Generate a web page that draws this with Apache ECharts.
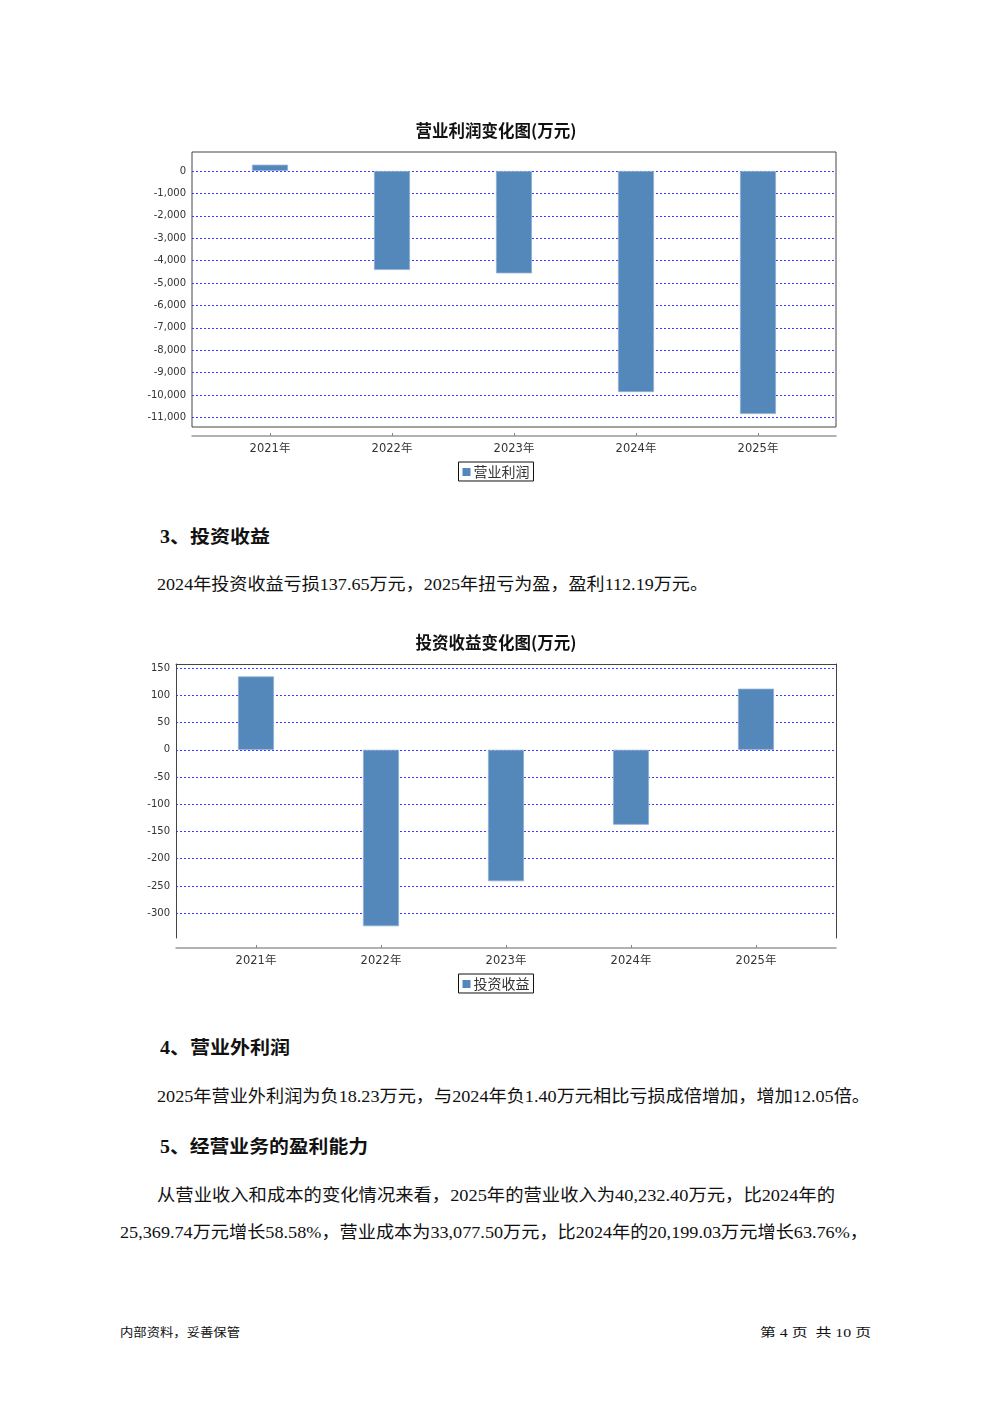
<!DOCTYPE html>
<html>
<head>
<meta charset="utf-8">
<script src="https://cdn.jsdelivr.net/npm/echarts@6/dist/echarts.min.js"></script>
<style>
  html, body { margin:0; padding:0; background:#fff; }
  body { width:992px; height:1403px; position:relative; overflow:hidden; }
  .t { position:absolute; white-space:nowrap; line-height:1; color:#111;
       font-family:"Liberation Serif","Noto Sans CJK SC",serif; transform-origin:0 50%; display:inline-block; }
  .h { font-weight:bold; font-family:"Liberation Serif","Noto Sans CJK SC",sans-serif; }
  .chart { position:absolute; left:0; width:992px; height:390px; }
</style>
</head>
<body>
<div id="c1" class="chart" style="top:110px"></div>
<div id="c2" class="chart" style="top:620px"></div>

<div class="t h" style="left:160px;top:528px;font-size:18px" data-w="110">3、投资收益</div>
<div class="t" style="left:157px;top:576px;font-size:17px" data-w="551">2024年投资收益亏损137.65万元，2025年扭亏为盈，盈利112.19万元。</div>
<div class="t h" style="left:160px;top:1039px;font-size:18px" data-w="130">4、营业外利润</div>
<div class="t" style="left:157px;top:1088px;font-size:17px" data-w="713">2025年营业外利润为负18.23万元，与2024年负1.40万元相比亏损成倍增加，增加12.05倍。</div>
<div class="t h" style="left:160px;top:1138px;font-size:18px" data-w="208">5、经营业务的盈利能力</div>
<div class="t" style="left:157px;top:1187px;font-size:17px" data-w="678">从营业收入和成本的变化情况来看，2025年的营业收入为40,232.40万元，比2024年的</div>
<div class="t" style="left:120px;top:1224px;font-size:17px" data-w="748">25,369.74万元增长58.58%，营业成本为33,077.50万元，比2024年的20,199.03万元增长63.76%，</div>
<div class="t" style="left:120px;top:1327px;font-size:12px" data-w="120">内部资料，妥善保管</div>
<div class="t" style="left:760px;top:1327px;font-size:12px" data-w="111">第 4 页 &nbsp;共 10 页</div>

<script>
// ---- data ----
const years = ['2021年', '2022年', '2023年', '2024年', '2025年'];
const opProfit = [280, -4420, -4570, -9870, -10850];          // 营业利润 (万元)
const invIncome = [134.7, -324, -241.4, -137.65, 112.19];      // 投资收益 (万元)
const opProfitAxis = { min: -11430, max: 848, step: 1000 };
const invIncomeAxis = { min: -345.6, max: 157.5, step: 50 };

const CJK = '"Noto Sans CJK SC"';

function buildOption(c) {
  const frameAxes = c.box ? [] : [
    { gridIndex: 0, type: 'value', position: 'top', min: 0, max: 1,
      axisLine: { show: true, onZero: false, lineStyle: { color: '#444', width: 1 } },
      axisTick: { show: false }, axisLabel: { show: false }, splitLine: { show: false } }
  ];
  const xAxis = [
    { gridIndex: 0, type: 'value', position: 'bottom', min: 0, max: 1, offset: c.axisOffset,
      axisLine: { show: true, onZero: false, lineStyle: { color: '#999', width: 1.5 } },
      axisTick: { show: false }, axisLabel: { show: false }, splitLine: { show: false } },
    { gridIndex: 1, type: 'category', data: years, position: 'bottom', offset: c.axisOffset,
      axisLine: { show: false, onZero: false },
      axisTick: { show: true, alignWithLabel: true, length: 3, inside: true, lineStyle: { color: '#888' } },
      axisLabel: { fontSize: 11.5, color: '#333', margin: 7, fontFamily: '"DejaVu Sans",' + CJK },
      splitLine: { show: false } }
  ].concat(frameAxes);
  const yAxis = [
    { gridIndex: 0, type: 'value', min: c.axis.min, max: c.axis.max,
      minInterval: c.axis.step, maxInterval: c.axis.step,
      axisLine: { show: !c.box, onZero: false, lineStyle: { color: '#444' } },
      axisTick: { show: false },
      axisLabel: { fontSize: 10, color: '#333', margin: 6, fontFamily: '"DejaVu Sans"',
        showMinLabel: false, showMaxLabel: false,
        formatter: v => v.toLocaleString('en-US') },
      splitLine: { show: true, showMinLine: false, showMaxLine: false,
        lineStyle: { color: '#3a3aff', width: 1, type: [2, 2] } } },
    { gridIndex: 1, type: 'value', min: c.axis.min, max: c.axis.max, show: false,
      axisLine: { onZero: false }, splitLine: { show: false } }
  ];
  if (!c.box) {
    yAxis.push({ gridIndex: 0, type: 'value', position: 'right', min: c.axis.min, max: c.axis.max,
      axisLine: { show: true, onZero: false, lineStyle: { color: '#444' } }, axisTick: { show: false },
      axisLabel: { show: false }, splitLine: { show: false } });
  }
  return {
    animation: false,
    title: { text: c.title, left: 'center', top: c.titleTop,
      textStyle: { fontSize: 16.5, fontWeight: 'bold', color: '#111', fontFamily: CJK } },
    legend: { data: [c.name], top: c.legendTop, left: 'center', icon: 'rect',
      itemWidth: 8, itemHeight: 8, itemGap: 0, padding: [3, 4, 2, 4],
      borderColor: '#111', borderWidth: 1,
      itemStyle: { borderWidth: 0 },
      textStyle: { fontSize: 14, color: '#333', fontFamily: CJK, padding: [0, 0, 0, -2] } },
    grid: [
      { left: c.left, top: c.top, width: c.width, height: c.height,
        show: c.box, borderColor: '#444', borderWidth: 1, backgroundColor: 'transparent' },
      { left: c.left + c.margin, top: c.top, width: c.width - 2 * c.margin, height: c.height }
    ],
    xAxis: xAxis,
    yAxis: yAxis,
    series: [{ type: 'bar', name: c.name, xAxisIndex: 1, yAxisIndex: 1, data: c.values,
      barWidth: 36, itemStyle: { color: '#5588ba', borderColor: '#8fb0d3', borderWidth: 0.8 } }]
  };
}

echarts.init(document.getElementById('c1')).setOption(buildOption({
  title: '营业利润变化图(万元)', name: '营业利润', values: opProfit, axis: opProfitAxis,
  titleTop: 7, legendTop: 352, left: 192, top: 42, width: 644, height: 275,
  margin: 17, axisOffset: 9, box: true
}));
echarts.init(document.getElementById('c2')).setOption(buildOption({
  title: '投资收益变化图(万元)', name: '投资收益', values: invIncome, axis: invIncomeAxis,
  titleTop: 9, legendTop: 354, left: 176, top: 44, width: 660, height: 274,
  margin: 17.5, axisOffset: 10, box: false
}));

// fit text lines to their measured widths in the reference
document.querySelectorAll('.t[data-w]').forEach(el => {
  const w = el.getBoundingClientRect().width;
  const target = parseFloat(el.dataset.w);
  if (w > 0) el.style.transform = 'scaleX(' + (target / w) + ')';
});
</script>
</body>
</html>
